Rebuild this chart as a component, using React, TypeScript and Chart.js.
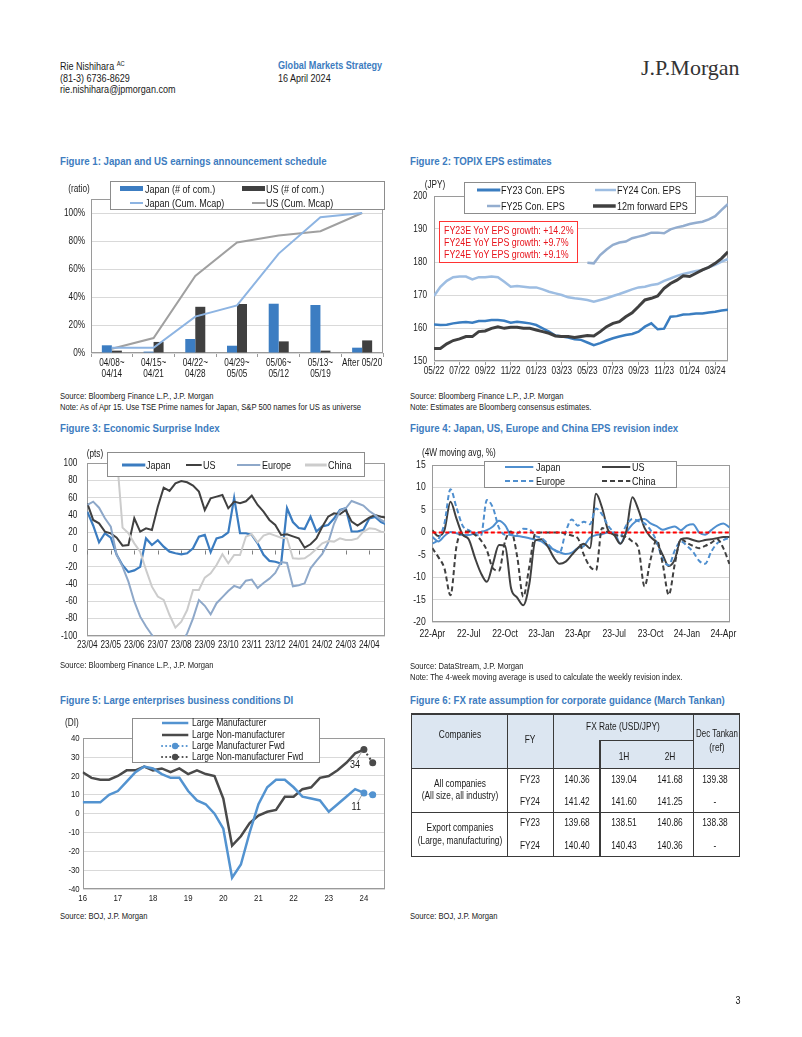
import React, { useEffect, useRef } from "react";
import { Chart, registerables } from "chart.js";

Chart.register(...registerables);

const FONT = "'Liberation Sans',Arial,sans-serif";
const SERIF = "'Liberation Serif','Times New Roman',serif";
const NARROW = 0.82;
const TITLE_BLUE = "#3d7cc0";
const TEXT = "#1a1a1a";
const GRID = "#d9d9d9";
const FRAME = "#9a9a9a";

Chart.defaults.font.family = FONT;
Chart.defaults.color = TEXT;

// ---------------- Figure 1 data ----------------
const fig1Categories = [
  ["04/08~", "04/14"],
  ["04/15~", "04/21"],
  ["04/22~", "04/28"],
  ["04/29~", "05/05"],
  ["05/06~", "05/12"],
  ["05/13~", "05/19"],
  "After 05/20",
];
const fig1JapanCount = [5.5, 1, 10, 5.2, 35.2, 34.3, 3.8];
const fig1USCount = [1.7, 7.9, 33, 35, 8.3, 1.7, 9];
const fig1JapanCum = [3.8, 3.8, 26, 34, 71, 97, 100];
const fig1USCum = [3, 10.7, 55, 79, 84, 87, 100];
const fig1YTicks = [0, 20, 40, 60, 80, 100];

// ---------------- Figure 2 data (semi-monthly from May-2022) ----------------
const FIG2_STEP = 0.5;
const fig2TickLabels = ["05/22", "07/22", "09/22", "11/22", "01/23", "03/23", "05/23", "07/23", "09/23", "11/23", "01/24", "03/24"];
const fig2FY23 = [161.1, 160.9, 161.0, 161.4, 161.7, 161.8, 161.6, 162.1, 162.1, 162.4, 162.4, 162.2, 161.6, 161.9, 161.7, 161.4, 160.9, 159.9, 158.9, 157.7, 157.4, 157.1, 156.6, 156.4, 155.6, 154.8, 155.4, 156.2, 156.9, 157.4, 157.9, 158.2, 158.9, 160.4, 161.4, 159.6, 159.8, 163.4, 163.6, 164.1, 164.2, 164.4, 164.4, 164.7, 164.9, 165.3, 165.5];
const fig2FY24 = [169.7, 172.5, 174.3, 175.4, 175.6, 175.6, 174.7, 175.4, 175.4, 175.6, 175.4, 174.0, 172.5, 172.7, 172.5, 172.3, 172.3, 171.7, 171.0, 170.5, 170.0, 169.3, 169.0, 168.8, 168.5, 168.0, 168.5, 169.0, 169.7, 170.3, 171.0, 171.7, 172.3, 172.5, 173.0, 173.3, 174.3, 175.0, 175.8, 176.4, 176.8, 177.3, 177.6, 178.4, 179.1, 180.1, 180.9];
const fig2FY25 = [null, null, null, null, null, null, null, null, null, null, null, null, null, null, null, null, null, null, null, null, null, null, null, null, 179.8, 179.6, 182.1, 183.8, 185.2, 185.9, 186.2, 187.2, 187.7, 188.2, 188.9, 188.9, 188.7, 189.9, 190.5, 190.9, 191.5, 191.9, 192.2, 192.9, 193.9, 195.8, 197.6];
const fig2Fwd = [153.8, 153.8, 155.2, 156.2, 156.7, 157.4, 157.4, 158.9, 159.1, 159.9, 160.4, 159.9, 160.2, 160.2, 159.9, 159.9, 159.4, 158.9, 158.4, 157.6, 157.4, 157.4, 157.1, 157.4, 157.7, 157.6, 158.9, 160.4, 161.4, 161.9, 163.4, 164.6, 166.5, 168.5, 169.0, 169.7, 172.0, 173.5, 174.5, 175.8, 175.6, 176.6, 177.6, 178.4, 179.6, 181.1, 183.1];
const fig2Notes = ["FY23E YoY EPS growth: +14.2%", "FY24E YoY EPS growth: +9.7%", "FY24E YoY EPS growth: +9.1%"];

// ---------------- Figure 3 data (weekly-ish from Apr-2023) ----------------
const FIG3_STEP = 0.25;
const fig3TickLabels = ["23/04", "23/05", "23/06", "23/07", "23/08", "23/09", "23/10", "23/11", "23/12", "24/01", "24/02", "24/03", "24/04"];
const fig3Japan = [44, 28, 8.5, 19, 14, -6, -18, -26, -24, -20, 13, 5.4, 11, 3.5, -2.3, -4.2, -5.4, -4.2, 1.5, 15, 17, -3, 13, 15, 20, 60, 19, 19, 17, 7.3, -6, -13, -14, -16, 48, 32, 25, 24, 38, 21, 27, 28.6, 36, 46, 48, 21, 21, 23, 36, 38, 32, 29];
const fig3US = [53.7, 34.4, 30.5, 20.8, 18.9, 13.9, 4.6, 5.4, 36.3, 20.8, 24.7, 22.8, 49.8, 71.8, 68, 76.8, 79.5, 78, 74.1, 67.2, 45.9, 59.5, 61.4, 63.3, 47.9, 55.6, 53.7, 56, 62.5, 51.7, 44, 34.4, 28.6, 17, 17.8, 15.4, 13.1, 2.3, 6.2, 13.1, 26.6, 38.2, 42, 41, 46, 32.4, 27.8, 32.4, 37, 40, 38.2, 37];
const fig3Europe = [51.7, 55.6, 48.6, 36.3, 26.6, -6.2, -19.7, -37, -60, -77.6, -89, -98.8, -108, -115, -118, -115, -108, -97, -79.5, -58.3, -65, -75, -62, -55, -48, -42, -44.4, -36, -34.7, -44.4, -38.6, -33.6, -27, -14.3, -15.4, -42.5, -41.3, -39, -21.6, -13, -5, 8, 30, 45, 47.9, 56.4, 53.7, 51, 44.8, 40, 34.4, 30.5];
const fig3China = [110, 110, 110, 110, 110, 110, 25.5, 19, 7.3, -2.3, -23.5, -42.9, -54.4, -58.3, -75.7, -90.3, -83.4, -69.9, -46.7, -46.7, -32.4, -27.4, -17.8, -5.4, -15.8, -6.2, -6.2, 15, 17.8, 8.5, 16.2, 18.5, 16.2, 13.9, 13.1, -10, -10.4, -10, -5.4, 0.8, 7.3, 10, 9.3, 13.1, 11.2, 11.2, 13.1, 20.8, 24.7, 24, 20.8, 20];

// ---------------- Figure 4 data (semi-monthly from Apr-2022) ----------------
const FIG4_STEP = 0.5;
const fig4TickLabels = ["22-Apr", "22-Jul", "22-Oct", "23-Jan", "23-Apr", "23-Jul", "23-Oct", "24-Jan", "24-Apr"];
const fig4Japan = [-1, -2, -0.8, 0.1, -0.2, -0.6, -0.6, -0.2, 0.1, 0.5, 1.3, 2.6, 1.6, -0.6, -0.8, -1, -1.3, -1.6, -2, -3, -3.8, -4.4, -4.8, -4.5, -3.5, -3, -1.2, -0.6, -0.4, 0, 0, -2.5, 0, 1.8, 2.8, 3, 2, 1.4, 0.6, 1, 1.3, 0.5, 1.5, 1.8, 0, -0.5, 0.5, 1.5, 2, 1.1];
const fig4US = [0.5, -0.8, 0.5, 6.8, 3, -0.5, -1.5, -5.5, -9, -11, -7, -2.8, -3, -12.5, -14.5, -16.2, -11.5, -1.8, -1.5, -3, -5.5, -7, -6.5, -5, -3.5, -2.5, -3.5, 8.6, 5.5, 0.5, -0.6, -2.5, 0.3, 7.8, 5, 1, -1, -2.3, -5, -7.5, -6, -1.5, -1.3, -1.7, -2, -1.7, -1.5, -1.3, -1, -1];
const fig4Europe = [-2.5, -1.5, 2, 9.6, 5.5, 1.5, 0.5, -0.3, -0.8, 7.2, 5.5, 1, -0.5, -0.5, -0.3, 0.8, 0.7, -0.8, -1.2, -2.5, -3.8, -4.5, 0.1, 2.9, 1.5, 2.4, 1.8, 5.3, 4, 1.5, 0, -0.8, 1.6, 3, 2.5, 2, 0.5, -2, -6, -7.3, -4, -2, -3, -4.3, -6.3, -7, -4.3, -2.4, -1.7, -1.2];
const fig4China = [-3.5, -5.5, -8, -14, -3, 0.2, 0.2, -0.5, -1.7, -4, -8, -8.5, -2, 0.2, -5.4, -14.3, -7.6, -0.2, 0, 0, 0, 0, -0.3, -0.7, -1.3, -5, -7.6, -8.4, 1, 0, -0.5, -0.8, -1, -2, -3.5, -12, -6, -1.7, -7, -13.9, -7, -1.5, -2.3, -3, -3.5, -3, -2.3, -1.5, -3.5, -7];

// ---------------- Figure 5 data (quarterly from Mar-2016) ----------------
const FIG5_START = 16;
const FIG5_STEP = 0.25;
const fig5Mfg = [6, 6, 6, 10, 12, 17, 22, 25, 24, 21, 19, 19, 12, 7, 5, 0, -8, -34, -27, -10, 5, 14, 18, 18, 14, 9, 8, 7, 1, 5, 9, 13, 11];
const fig5NonMfg = [22, 19, 18, 18, 20, 23, 23, 25, 23, 24, 22, 24, 21, 23, 21, 20, 8, -17, -12, -5, -1, 1, 2, 9, 9, 13, 14, 19, 20, 23, 27, 32, 34];
const fig5YearTicks = [16, 17, 18, 19, 20, 21, 22, 23, 24];
const fig5FwdX = [24, 24.25];
const fig5MfgFwd = [11, 10];
const fig5NonMfgFwd = [34, 27];

// ---------------- Figure 6 table ----------------
const fig6Groups = [["All companies", "(All size, all industry)"], ["Export companies", "(Large, manufacturing)"]];
const fig6FY = ["FY23", "FY24", "FY23", "FY24"];
const fig6Annual = [140.36, 141.42, 139.68, 140.4];
const fig6H1 = [139.04, 141.6, 138.51, 140.43];
const fig6H2 = [141.68, 141.25, 140.86, 140.36];
const fig6Dec = [139.38, null, 138.38, null];

// ---------------- helpers ----------------
const toPts = (ys: (number | null)[], step: number, start = 0) => ys.map((y, i) => ({ x: start + i * step, y }));

const fixWidth = (w: number) => (s: any) => {
  s.width = w;
  s.paddingTop = 0; s.paddingBottom = 0; s.paddingLeft = 0; s.paddingRight = 0;
};
const fixHeight = (h: number) => (s: any) => {
  s.height = h;
  s.paddingTop = 0; s.paddingBottom = 0; s.paddingLeft = 0; s.paddingRight = 0;
};

const framePlugin = {
  id: "frame",
  beforeDatasetsDraw(chart: any) {
    const { ctx, chartArea: a } = chart;
    ctx.save();
    ctx.strokeStyle = FRAME;
    ctx.lineWidth = 1;
    ctx.strokeRect(Math.round(a.left) + 0.5, Math.round(a.top) + 0.5, Math.round(a.right - a.left) - 1, Math.round(a.bottom - a.top) - 1);
    ctx.restore();
  },
};

// condensed tick labels (Arial-Narrow look) drawn through the chart's own scales
const narrowTicks = (specs: any[]) => ({
  id: "narrowTicks",
  afterDraw(chart: any) {
    const { ctx, chartArea: a } = chart;
    specs.forEach((sp) => {
      const s = chart.scales[sp.axis];
      s.ticks.forEach((t: any, i: number) => {
        const label = sp.format(t.value, i);
        if (label === null || label === undefined) return;
        const lines = Array.isArray(label) ? label : [label];
        ctx.save();
        ctx.font = `${sp.size}px ${FONT}`;
        ctx.fillStyle = TEXT;
        ctx.textBaseline = "middle";
        if (sp.axis === "x") {
          ctx.translate(s.getPixelForTick(i), a.bottom + sp.offset);
          ctx.scale(NARROW, 1);
          ctx.textAlign = "center";
          lines.forEach((ln: string, j: number) => ctx.fillText(ln, 0, j * (sp.lineHeight || sp.size * 1.15)));
        } else {
          ctx.translate(a.left - sp.offset, s.getPixelForTick(i));
          ctx.scale(NARROW, 1);
          ctx.textAlign = "right";
          ctx.fillText(lines[0], 0, 0);
        }
        ctx.restore();
      });
    });
  },
});

const zeroTicksPlugin = {
  id: "zeroTicks",
  beforeDatasetsDraw(chart: any) {
    const { ctx, scales } = chart;
    const x = scales.x, y = scales.y;
    const y0 = Math.round(y.getPixelForValue(0)) + 0.5;
    ctx.save();
    ctx.strokeStyle = "#7f7f7f";
    ctx.lineWidth = 1;
    ctx.beginPath();
    x.ticks.forEach((t: any) => {
      const px = Math.round(x.getPixelForValue(t.value)) + 0.5;
      ctx.moveTo(px, y0);
      ctx.lineTo(px, y0 + 4);
    });
    ctx.stroke();
    ctx.restore();
  },
};

const zeroRedPlugin = {
  id: "zeroRed",
  afterDatasetsDraw(chart: any) {
    const { ctx, chartArea: a, scales } = chart;
    const py = scales.y.getPixelForValue(0);
    ctx.save();
    ctx.strokeStyle = "#ff0000";
    ctx.lineWidth = 2;
    ctx.setLineDash([4, 2.5]);
    ctx.beginPath();
    ctx.moveTo(a.left, py);
    ctx.lineTo(a.right, py);
    ctx.stroke();
    ctx.restore();
  },
};

const fig5Callouts = [
  { dataset: 3, index: 0, dx: -4, dy: 15 },
  { dataset: 2, index: 0, dx: -3, dy: 14 },
];
const calloutPlugin = {
  id: "callouts",
  afterDatasetsDraw(chart: any) {
    const { ctx } = chart;
    fig5Callouts.forEach((c) => {
      const el = chart.getDatasetMeta(c.dataset).data[c.index];
      const v = chart.data.datasets[c.dataset].data[c.index].y;
      ctx.save();
      ctx.strokeStyle = "#8c8c8c";
      ctx.lineWidth = 0.8;
      ctx.beginPath();
      ctx.moveTo(el.x - 2, el.y + 2);
      ctx.lineTo(el.x + c.dx - 3, el.y + c.dy - 5);
      ctx.stroke();
      ctx.fillStyle = TEXT;
      ctx.font = `11px ${FONT}`;
      ctx.textAlign = "right";
      ctx.textBaseline = "middle";
      ctx.translate(el.x + c.dx, el.y + c.dy);
      ctx.scale(NARROW, 1);
      ctx.fillText(String(v), 0, 0);
      ctx.restore();
    });
  },
};

function baseOptions(padding: any, scales: any) {
  return {
    animation: false,
    responsive: false,
    maintainAspectRatio: false,
    layout: { padding },
    plugins: { legend: { display: false }, tooltip: { enabled: false } },
    elements: { point: { radius: 0 }, line: { tension: 0 } },
    scales,
  };
}

function ChartBox({ left, top, width, height, config }: any) {
  const ref = useRef<HTMLCanvasElement | null>(null);
  useEffect(() => {
    if (!ref.current) return;
    const chart = new Chart(ref.current, config());
    return () => chart.destroy();
  }, []);
  return <canvas ref={ref} width={width} height={height} style={{ position: "absolute", left, top, width, height }} />;
}

const T = ({ x, y, children, align = "left", size = 10, bold = false, color = TEXT, family = FONT, k = NARROW }: any) => {
  const base = align === "center" ? "translate(-50%,-50%)" : align === "right" ? "translate(-100%,-50%)" : "translateY(-50%)";
  const origin = align === "center" ? "50% 50%" : align === "right" ? "100% 50%" : "0 50%";
  return (
    <div
      style={{
        position: "absolute",
        left: x,
        top: y,
        transform: `${base} scaleX(${k})`,
        transformOrigin: origin,
        fontFamily: family,
        fontSize: size,
        fontWeight: bold ? 700 : 400,
        color,
        whiteSpace: "nowrap",
        lineHeight: 1,
      }}
    >
      {children}
    </div>
  );
};

const Swatch = ({ kind, color, x1, x2, y, w = 2, dash }: any) => {
  if (kind === "bar") {
    return <div style={{ position: "absolute", left: x1, top: y - w / 2, width: x2 - x1, height: w, background: color }} />;
  }
  const pad = 6;
  const width = x2 - x1;
  return (
    <svg style={{ position: "absolute", left: x1, top: y - pad, overflow: "visible" }} width={width} height={pad * 2}>
      <line x1={0} y1={pad} x2={width} y2={pad} stroke={color} strokeWidth={w} strokeDasharray={dash} strokeLinecap={kind === "dot" ? "round" : "butt"} />
      {kind === "dot" && <circle cx={width / 2} cy={pad} r={3.2} fill={color} />}
    </svg>
  );
};

function Legend({ box, items, size = 11 }: any) {
  return (
    <>
      <div style={{ position: "absolute", left: box[0], top: box[1], width: box[2], height: box[3], border: "1px solid #8c8c8c", background: "#fff", boxSizing: "border-box" }} />
      {items.map((it: any, i: number) => (
        <React.Fragment key={i}>
          <Swatch {...it} />
          <T x={it.tx} y={it.y} size={size}>{it.label}</T>
        </React.Fragment>
      ))}
    </>
  );
}

// ---------------- colors ----------------
const C = {
  f1JpBar: "#3c7dc2",
  f1UsBar: "#404040",
  f1JpLine: "#8db4e2",
  f1UsLine: "#a0a0a0",
  f2FY23: "#3a7dc0",
  f2FY24: "#9dbde2",
  f2FY25: "#93adcf",
  f2Fwd: "#404040",
  f3Jp: "#3b7cc0",
  f3Us: "#404040",
  f3Eu: "#8ea8c9",
  f3Cn: "#cccccc",
  f4Blue: "#4f8fcf",
  f4Dark: "#404040",
  f5Mfg: "#5393d0",
  f5Non: "#4a4a4a",
};

const hiddenTicks = (extra: any = {}) => ({ display: false, includeBounds: false, autoSkip: false, ...extra });

// ---------------- chart configs ----------------
const fig1Config = () => ({
  type: "bar",
  data: {
    labels: fig1Categories,
    datasets: [
      { type: "line", label: "Japan (Cum. Mcap)", data: fig1JapanCum, borderColor: C.f1JpLine, borderWidth: 2, pointRadius: 0, order: 0 },
      { type: "line", label: "US (Cum. Mcap)", data: fig1USCum, borderColor: C.f1UsLine, borderWidth: 2, pointRadius: 0, order: 0 },
      { type: "bar", label: "Japan (# of com.)", data: fig1JapanCount, backgroundColor: C.f1JpBar, categoryPercentage: 0.48, barPercentage: 1, order: 1 },
      { type: "bar", label: "US (# of com.)", data: fig1USCount, backgroundColor: C.f1UsBar, categoryPercentage: 0.48, barPercentage: 1, order: 1 },
    ],
  },
  options: baseOptions(
    { top: 24, right: 7, bottom: 2, left: 0 },
    {
      x: {
        offset: true,
        grid: { display: true, drawOnChartArea: false, drawTicks: true, tickLength: 4, color: FRAME, offset: true },
        border: { display: false },
        ticks: hiddenTicks(),
        afterFit: fixHeight(30),
      },
      y: {
        min: 0,
        max: 110,
        ticks: hiddenTicks({ stepSize: 20 }),
        grid: { color: GRID, drawTicks: false },
        border: { display: false },
        afterBuildTicks: (s: any) => { s.ticks = fig1YTicks.map((v) => ({ value: v })); },
        afterFit: fixWidth(31),
      },
    }
  ),
  plugins: [
    framePlugin,
    narrowTicks([
      { axis: "x", size: 10, offset: 10.3, lineHeight: 11, format: (_v: number, i: number) => fig1Categories[i] },
      { axis: "y", size: 10, offset: 6, format: (v: number) => `${v}%` },
    ]),
  ],
});

const fig2Config = () => ({
  type: "line",
  data: {
    datasets: [
      { label: "12m forward EPS", data: toPts(fig2Fwd, FIG2_STEP), borderColor: C.f2Fwd, borderWidth: 3 },
      { label: "FY23 Con. EPS", data: toPts(fig2FY23, FIG2_STEP), borderColor: C.f2FY23, borderWidth: 2.5 },
      { label: "FY24 Con. EPS", data: toPts(fig2FY24, FIG2_STEP), borderColor: C.f2FY24, borderWidth: 2.5 },
      { label: "FY25 Con. EPS", data: toPts(fig2FY25, FIG2_STEP), borderColor: C.f2FY25, borderWidth: 2.5, spanGaps: false },
    ],
  },
  options: baseOptions(
    { top: 21, right: 12, bottom: 0, left: 0 },
    {
      x: {
        type: "linear",
        min: 0,
        max: 23,
        grid: { display: true, drawOnChartArea: false, drawTicks: true, tickLength: 4, color: FRAME },
        border: { display: false },
        ticks: hiddenTicks({ stepSize: 2 }),
        afterBuildTicks: (s: any) => { s.ticks = fig2TickLabels.map((_l, i) => ({ value: i * 2 })); },
        afterFit: fixHeight(24),
      },
      y: {
        min: 150,
        max: 200,
        ticks: hiddenTicks({ stepSize: 10 }),
        grid: { color: GRID, drawTicks: false },
        border: { display: false },
        afterFit: fixWidth(24),
      },
    }
  ),
  plugins: [
    framePlugin,
    narrowTicks([
      { axis: "x", size: 10, offset: 10, format: (_v: number, i: number) => fig2TickLabels[i] },
      { axis: "y", size: 10, offset: 7, format: (v: number) => String(v) },
    ]),
  ],
});

const fig3Config = () => ({
  type: "line",
  data: {
    datasets: [
      { label: "China", data: toPts(fig3China, FIG3_STEP), borderColor: C.f3Cn, borderWidth: 2, order: 0 },
      { label: "Europe", data: toPts(fig3Europe, FIG3_STEP), borderColor: C.f3Eu, borderWidth: 2, order: 1 },
      { label: "US", data: toPts(fig3US, FIG3_STEP), borderColor: C.f3Us, borderWidth: 2, order: 2 },
      { label: "Japan", data: toPts(fig3Japan, FIG3_STEP), borderColor: C.f3Jp, borderWidth: 2.2, order: 3 },
    ],
  },
  options: baseOptions(
    { top: 23.3, right: 5, bottom: 5, left: 0 },
    {
      x: {
        type: "linear",
        min: 0,
        max: 12.67,
        grid: { display: false },
        border: { display: false },
        ticks: hiddenTicks({ stepSize: 1 }),
        afterBuildTicks: (s: any) => { s.ticks = fig3TickLabels.map((_l, i) => ({ value: i })); },
        afterFit: fixHeight(24),
      },
      y: {
        min: -100,
        max: 100,
        ticks: hiddenTicks({ stepSize: 20 }),
        grid: { color: (c: any) => (c.tick && c.tick.value === 0 ? "#7f7f7f" : GRID), drawTicks: false },
        border: { display: false },
        afterFit: fixWidth(27.3),
      },
    }
  ),
  plugins: [
    framePlugin,
    zeroTicksPlugin,
    narrowTicks([
      { axis: "x", size: 10, offset: 9.7, format: (_v: number, i: number) => fig3TickLabels[i] },
      { axis: "y", size: 10, offset: 10, format: (v: number) => String(v) },
    ]),
  ],
});

const fig4Config = () => ({
  type: "line",
  data: {
    datasets: [
      { label: "China", data: toPts(fig4China, FIG4_STEP), borderColor: C.f4Dark, borderWidth: 2, borderDash: [5, 3], cubicInterpolationMode: "monotone" },
      { label: "Europe", data: toPts(fig4Europe, FIG4_STEP), borderColor: C.f4Blue, borderWidth: 2, borderDash: [5, 3], cubicInterpolationMode: "monotone" },
      { label: "US", data: toPts(fig4US, FIG4_STEP), borderColor: C.f4Dark, borderWidth: 2, cubicInterpolationMode: "monotone" },
      { label: "Japan", data: toPts(fig4Japan, FIG4_STEP), borderColor: C.f4Blue, borderWidth: 2, cubicInterpolationMode: "monotone" },
    ],
  },
  options: baseOptions(
    { top: 25, right: 10, bottom: 18.7, left: 0 },
    {
      x: {
        type: "linear",
        min: 0,
        max: 24.55,
        grid: { display: false },
        border: { display: false },
        ticks: hiddenTicks({ stepSize: 3 }),
        afterBuildTicks: (s: any) => { s.ticks = fig4TickLabels.map((_l, i) => ({ value: i * 3 })); },
        afterFit: fixHeight(24),
      },
      y: {
        min: -20,
        max: 15,
        ticks: hiddenTicks({ stepSize: 5 }),
        grid: { color: GRID, drawTicks: false },
        border: { display: false },
        afterFit: fixWidth(22.3),
      },
    }
  ),
  plugins: [
    framePlugin,
    zeroRedPlugin,
    narrowTicks([
      { axis: "x", size: 10.5, offset: 11.7, format: (_v: number, i: number) => fig4TickLabels[i] },
      { axis: "y", size: 10.5, offset: 6.6, format: (v: number) => String(v) },
    ]),
  ],
});

const fig5Config = () => ({
  type: "line",
  data: {
    datasets: [
      { label: "Large Manufacturer", data: toPts(fig5Mfg, FIG5_STEP, FIG5_START), borderColor: C.f5Mfg, borderWidth: 2.5 },
      { label: "Large Non-manufacturer", data: toPts(fig5NonMfg, FIG5_STEP, FIG5_START), borderColor: C.f5Non, borderWidth: 2.5 },
      {
        label: "Large Manufacturer Fwd",
        data: fig5MfgFwd.map((y, i) => ({ x: fig5FwdX[i], y })),
        borderColor: C.f5Mfg, borderWidth: 2, borderDash: [2, 3], pointRadius: 3.5, pointBackgroundColor: C.f5Mfg, pointBorderWidth: 0,
      },
      {
        label: "Large Non-manufacturer Fwd",
        data: fig5NonMfgFwd.map((y, i) => ({ x: fig5FwdX[i], y })),
        borderColor: C.f5Non, borderWidth: 2, borderDash: [2, 3], pointRadius: 3.5, pointBackgroundColor: C.f5Non, pointBorderWidth: 0,
      },
    ],
  },
  options: baseOptions(
    { top: 28.3, right: 5, bottom: 1, left: 0 },
    {
      x: {
        type: "linear",
        min: 16,
        max: 24.6,
        grid: { display: false },
        border: { display: false },
        ticks: hiddenTicks({ stepSize: 1 }),
        afterBuildTicks: (s: any) => { s.ticks = fig5YearTicks.map((v) => ({ value: v })); },
        afterFit: fixHeight(20),
      },
      y: {
        min: -40,
        max: 40,
        ticks: hiddenTicks({ stepSize: 10 }),
        grid: { color: GRID, drawTicks: false },
        border: { display: false },
        afterFit: fixWidth(22.7),
      },
    }
  ),
  plugins: [
    framePlugin,
    calloutPlugin,
    narrowTicks([
      { axis: "x", size: 9.5, offset: 9.3, format: (v: number) => String(v) },
      { axis: "y", size: 9.5, offset: 3, format: (v: number) => String(v) },
    ]),
  ],
});

// ---------------- legends (layout) ----------------
const fig1Legend = {
  box: [110, 181, 275, 29],
  items: [
    { kind: "bar", color: C.f1JpBar, x1: 120, x2: 143, y: 188.5, w: 5, label: "Japan (# of com.)", tx: 144.5 },
    { kind: "bar", color: C.f1UsBar, x1: 241.7, x2: 265, y: 188.5, w: 5, label: "US (# of com.)", tx: 266 },
    { kind: "line", color: C.f1JpLine, x1: 130, x2: 143, y: 202.7, w: 2, label: "Japan (Cum. Mcap)", tx: 144.5 },
    { kind: "line", color: C.f1UsLine, x1: 251.7, x2: 265, y: 202.7, w: 2, label: "US (Cum. Mcap)", tx: 266 },
  ],
};
const fig2Legend = {
  box: [464, 182, 232, 32],
  items: [
    { kind: "line", color: C.f2FY23, x1: 476.7, x2: 500, y: 190, w: 3, label: "FY23 Con. EPS", tx: 501 },
    { kind: "line", color: C.f2FY24, x1: 595, x2: 616, y: 190, w: 2.5, label: "FY24 Con. EPS", tx: 617 },
    { kind: "line", color: C.f2FY25, x1: 486.7, x2: 500, y: 206, w: 2.5, label: "FY25 Con. EPS", tx: 501 },
    { kind: "line", color: C.f2Fwd, x1: 593.3, x2: 616, y: 206, w: 3.5, label: "12m forward EPS", tx: 617 },
  ],
};
const fig3Legend = {
  box: [106.7, 452.3, 258.3, 24.4],
  items: [
    { kind: "line", color: C.f3Jp, x1: 121.7, x2: 145, y: 464.5, w: 3, label: "Japan", tx: 145.7 },
    { kind: "line", color: C.f3Us, x1: 186, x2: 201.7, y: 464.5, w: 2, label: "US", tx: 202.7 },
    { kind: "line", color: C.f3Eu, x1: 236.7, x2: 260, y: 464.5, w: 2, label: "Europe", tx: 261.7 },
    { kind: "line", color: C.f3Cn, x1: 305, x2: 326.7, y: 464.5, w: 3, label: "China", tx: 328.3 },
  ],
};
const fig4Legend = {
  box: [484, 461, 192.7, 26.7],
  items: [
    { kind: "line", color: C.f4Blue, x1: 505, x2: 533.3, y: 467, w: 2, label: "Japan", tx: 535.7 },
    { kind: "line", color: C.f4Dark, x1: 601.7, x2: 630, y: 467, w: 2, label: "US", tx: 631.7 },
    { kind: "line", color: C.f4Blue, x1: 505, x2: 533.3, y: 480.7, w: 2, dash: "5 3", label: "Europe", tx: 535.7 },
    { kind: "line", color: C.f4Dark, x1: 601.7, x2: 630, y: 480.7, w: 2, dash: "5 3", label: "China", tx: 631.7 },
  ],
};
const fig5Legend = {
  box: [131.7, 717.7, 188.3, 45.6],
  items: [
    { kind: "line", color: C.f5Mfg, x1: 161.7, x2: 188, y: 723.4, w: 2.5, label: "Large Manufacturer", tx: 192 },
    { kind: "line", color: C.f5Non, x1: 161.7, x2: 188, y: 734.5, w: 2.5, label: "Large Non-manufacturer", tx: 192 },
    { kind: "dot", color: C.f5Mfg, x1: 161.7, x2: 188, y: 745.7, w: 2, dash: "0.1 4", label: "Large Manufacturer Fwd", tx: 192 },
    { kind: "dot", color: C.f5Non, x1: 161.7, x2: 188, y: 757, w: 2, dash: "0.1 4", label: "Large Non-manufacturer Fwd", tx: 192 },
  ],
};

// ---------------- table ----------------
function FxTable() {
  const L = 411.7, R = 739.3, T0 = 714, HS = 740.7, HB = 768.3, G = 812.3, B = 856.7;
  const c1 = 507.3, c2 = 553.3, c3 = 600, c4 = 693.3;
  const lw = 1.4;
  const col = "#3a3a3a";
  const hl = (x1: number, x2: number, y: number, k: string) => (
    <div key={k} style={{ position: "absolute", left: x1 - lw / 2, top: y - lw / 2, width: x2 - x1 + lw, height: lw, background: col }} />
  );
  const vl = (x: number, y1: number, y2: number, k: string) => (
    <div key={k} style={{ position: "absolute", left: x - lw / 2, top: y1 - lw / 2, width: lw, height: y2 - y1 + lw, background: col }} />
  );
  const rowY = [780, 801.7, 823.3, 845.7];
  const groupY = [[784.3, 796], [828.3, 840.7]];
  const fs = 10.2;
  return (
    <>
      <div style={{ position: "absolute", left: L, top: T0, width: R - L, height: HB - T0, background: "#dce6f1" }} />
      {hl(L, R, T0, "t")}
      {hl(L, R, HB, "hb")}
      {hl(L, R, G, "g")}
      {hl(L, R, B, "b")}
      {hl(c3, c4, HS, "hs")}
      {vl(L, T0, B, "l")}
      {vl(R, T0, B, "r")}
      {vl(c1, T0, B, "c1")}
      {vl(c2, T0, B, "c2")}
      {vl(c3, HS, B, "c3")}
      {vl(c4, T0, B, "c4")}
      <T x={460} y={735} align="center" size={fs}>Companies</T>
      <T x={530} y={740} align="center" size={fs}>FY</T>
      <T x={623.3} y={727} align="center" size={fs}>FX Rate (USD/JPY)</T>
      <T x={624} y={756.7} align="center" size={fs}>1H</T>
      <T x={670} y={756.7} align="center" size={fs}>2H</T>
      <T x={716.5} y={734.3} align="center" size={fs} k={0.78}>Dec Tankan</T>
      <T x={716.5} y={747.7} align="center" size={fs}>(ref)</T>
      {fig6Groups.map((g, gi) => (
        <React.Fragment key={`g${gi}`}>
          <T x={460} y={groupY[gi][0]} align="center" size={fs}>{g[0]}</T>
          <T x={460} y={groupY[gi][1]} align="center" size={fs}>{g[1]}</T>
        </React.Fragment>
      ))}
      {fig6FY.map((fy, i) => (
        <React.Fragment key={`r${i}`}>
          <T x={530} y={rowY[i]} align="center" size={fs}>{fy}</T>
          <T x={576.7} y={rowY[i]} align="center" size={fs}>{fig6Annual[i].toFixed(2)}</T>
          <T x={624} y={rowY[i]} align="center" size={fs}>{fig6H1[i].toFixed(2)}</T>
          <T x={670} y={rowY[i]} align="center" size={fs}>{fig6H2[i].toFixed(2)}</T>
          <T x={715} y={rowY[i]} align="center" size={fs}>{fig6Dec[i] == null ? "-" : (fig6Dec[i] as number).toFixed(2)}</T>
        </React.Fragment>
      ))}
    </>
  );
}

export default function App() {
  const src = 9.3;
  const ttl = 11.8;
  return (
    <div style={{ position: "absolute", left: 0, top: 0, width: 802, height: 1037, background: "#fff", overflow: "hidden", fontFamily: FONT }}>
      {/* header */}
      <T x={60} y={66} size={11}>
        Rie Nishihara <sup style={{ fontSize: 7, verticalAlign: "super" }}>AC</sup>
      </T>
      <T x={60} y={77.5} size={11}>(81-3) 6736-8629</T>
      <T x={60} y={89} size={11}>rie.nishihara@jpmorgan.com</T>
      <T x={278} y={66} size={11.1} bold color={TITLE_BLUE}>Global Markets Strategy</T>
      <T x={278} y={77.5} size={11}>16 April 2024</T>
      <T x={641} y={68} size={22} family={SERIF} color="#333" k={1}>J.P.Morgan</T>

      {/* titles */}
      <T x={60} y={162} size={ttl} bold color={TITLE_BLUE}>Figure 1: Japan and US earnings announcement schedule</T>
      <T x={410} y={162} size={ttl} bold color={TITLE_BLUE}>Figure 2: TOPIX EPS estimates</T>
      <T x={60} y={429} size={ttl} bold color={TITLE_BLUE}>Figure 3: Economic Surprise Index</T>
      <T x={410} y={429} size={ttl} bold color={TITLE_BLUE}>Figure 4: Japan, US, Europe and China EPS revision index</T>
      <T x={60} y={701} size={ttl} bold color={TITLE_BLUE}>Figure 5: Large enterprises business conditions DI</T>
      <T x={410} y={701} size={ttl} bold color={TITLE_BLUE}>Figure 6: FX rate assumption for corporate guidance (March Tankan)</T>

      {/* Figure 1 */}
      <ChartBox left={60} top={175} width={330} height={210} config={fig1Config} />
      <T x={78.6} y={188.5} align="center" size={10}>(ratio)</T>
      <Legend {...fig1Legend} />

      {/* Figure 2 */}
      <ChartBox left={410} top={175} width={330} height={210} config={fig2Config} />
      <T x={435} y={185} align="center" size={10}>(JPY)</T>
      <Legend {...fig2Legend} />
      <div style={{ position: "absolute", left: 439, top: 221, width: 139, height: 42, border: "1px solid #ff3333", background: "#fff", boxSizing: "border-box" }} />
      {fig2Notes.map((n, i) => (
        <T key={n + i} x={444} y={230 + i * 12.2} size={10.8} color="#e8141c">{n}</T>
      ))}

      {/* Figure 3 */}
      <ChartBox left={60} top={440} width={330} height={225} config={fig3Config} />
      <T x={95} y={454} align="center" size={10}>(pts)</T>
      <Legend {...fig3Legend} />

      {/* Figure 4 */}
      <ChartBox left={410} top={440} width={330} height={225} config={fig4Config} />
      <T x={421.7} y={453.3} size={10}>(4W moving avg, %)</T>
      <Legend {...fig4Legend} />

      {/* Figure 5 */}
      <ChartBox left={60} top={710} width={330} height={200} config={fig5Config} />
      <T x={65} y={723} size={10}>(DI)</T>
      <Legend {...fig5Legend} size={10.4} />

      {/* Figure 6 */}
      <FxTable />

      {/* sources */}
      <T x={60} y={396.7} size={src}>Source:  Bloomberg Finance L.P., J.P. Morgan</T>
      <T x={60} y={407.5} size={src}>Note: As of Apr 15. Use TSE Prime names for Japan, S&amp;P 500 names for US as universe</T>
      <T x={410} y={396.7} size={src}>Source: Bloomberg Finance L.P., J.P. Morgan</T>
      <T x={410} y={407.5} size={src}>Note: Estimates are Bloomberg consensus estimates.</T>
      <T x={60} y={665.7} size={src}>Source: Bloomberg Finance L.P., J.P. Morgan</T>
      <T x={410} y={667.3} size={src}>Source: DataStream, J.P. Morgan</T>
      <T x={410} y={678} size={src}>Note: The 4-week moving average is used to calculate the weekly revision index.</T>
      <T x={60} y={917.3} size={src}>Source: BOJ, J.P. Morgan</T>
      <T x={410} y={917.3} size={src}>Source: BOJ, J.P. Morgan</T>

      <T x={738} y={1000} align="center" size={11}>3</T>
    </div>
  );
}
